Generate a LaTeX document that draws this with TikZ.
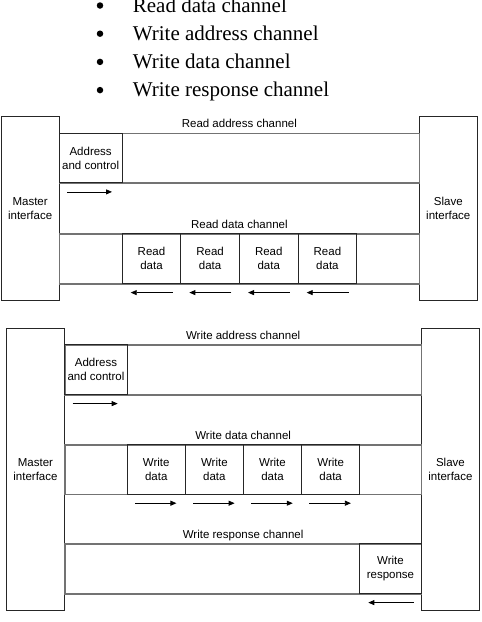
\documentclass[tikz,border=0pt]{standalone}
\usepackage{fontspec}
\setmainfont{Liberation Serif}
\newfontfamily\diagfont{Liberation Sans}
\usetikzlibrary{arrows.meta}

\begin{document}
\begin{tikzpicture}[x=1pt, y=-1pt,
      every node/.style = {inner sep=0pt, align=center,
        font=\diagfont\fontsize{11.5}{14}\selectfont},
      box/.style = {rectangle, draw=black!85, line width=0.9pt, anchor=north west},
      lane/.style = {rectangle, draw=black!55, line width=1.3pt, anchor=north west},
      flow/.style = {line width=0.8pt, -{Triangle[length=6pt,width=5pt]}},
      dot/.style = {circle, fill, minimum size=6.5pt},
      item/.style = {anchor=base west, font=\fontsize{21}{28}\selectfont}]
  \useasboundingbox (0,0) rectangle (482,622);

  % list above the pictures
  \foreach \txt [count=\i] in {Read data channel, Write address channel,
      Write data channel, Write response channel} {
    \node[dot] (dot\i) at (100,{12+28.2*(\i-1)-6.5}) {};
    \node[item] (item\i) at (132.7,{12+28.2*(\i-1)}) {\txt};
  }

  % read transactions
  \node[box, minimum width=58, minimum height=184] (rmaster) at (0.7,116) {Master\\interface};
  \node[box, minimum width=58.3, minimum height=184] (rslave) at (418.7,116) {Slave\\interface};
  \node[lane, minimum width=360, minimum height=49.6] (raddr) at (58.7,132.7) {};
  \node[lane, minimum width=360, minimum height=50] (rdata) at (58.7,233.3) {};
  \node[anchor=base] (raddrlbl) at ([yshift=5pt]raddr.north) {Read address channel};
  \node[anchor=base] (rdatalbl) at ([yshift=5pt]rdata.north) {Read data channel};
  \node[box, minimum width=63, minimum height=49.6] (raddrbox) at (raddr.north west) {Address\\and control};
  \draw[flow] ([xshift=8.3pt, yshift=-8.7pt]raddrbox.south west) -- ++(45,0);
  \foreach \i in {0,...,3} {
    \node[box, minimum width=58.65, minimum height=50] (rd\i) at ({121.7+58.65*\i},233.3) {Read\\data};
    \draw[flow] ([xshift=-8.6pt, yshift=-8.4pt]rd\i.south east) -- ([xshift=9pt, yshift=-8.4pt]rd\i.south west);
  }

  % write transactions
  \node[box, minimum width=58.6, minimum height=281.7] (wmaster) at (5.7,328.3) {Master\\interface};
  \node[box, minimum width=58.6, minimum height=281.7] (wslave) at (420.7,328.3) {Slave\\interface};
  \node[lane, minimum width=356.4, minimum height=50] (waddr) at (64.3,344.3) {};
  \node[lane, minimum width=356.4, minimum height=49.4] (wdata) at (64.3,444.3) {};
  \node[lane, minimum width=356.4, minimum height=50] (wresp) at (64.3,543.3) {};
  \node[anchor=base] (waddrlbl) at ([yshift=5pt]waddr.north) {Write address channel};
  \node[anchor=base] (wdatalbl) at ([yshift=5pt]wdata.north) {Write data channel};
  \node[anchor=base] (wresplbl) at ([yshift=5pt]wresp.north) {Write response channel};
  \node[box, minimum width=62.4, minimum height=50] (waddrbox) at (waddr.north west) {Address\\and control};
  \draw[flow] ([xshift=8.4pt, yshift=-8.4pt]waddrbox.south west) -- ++(45,0);
  \foreach \i in {0,...,3} {
    \node[box, minimum width=58.15, minimum height=49.4] (wd\i) at ({126.7+58.15*\i},444.3) {Write\\data};
    \draw[flow] ([xshift=8.3pt, yshift=-8.6pt]wd\i.south west) -- ([xshift=-9.3pt, yshift=-8.6pt]wd\i.south east);
  }
  \node[box, minimum width=61.4, minimum height=50] (wrespbox) at (359.3,543.3) {Write\\response};
  \draw[flow] ([xshift=-8pt, yshift=-8.4pt]wrespbox.south east) -- ([xshift=9pt, yshift=-8.4pt]wrespbox.south west);
\end{tikzpicture}
\end{document}
